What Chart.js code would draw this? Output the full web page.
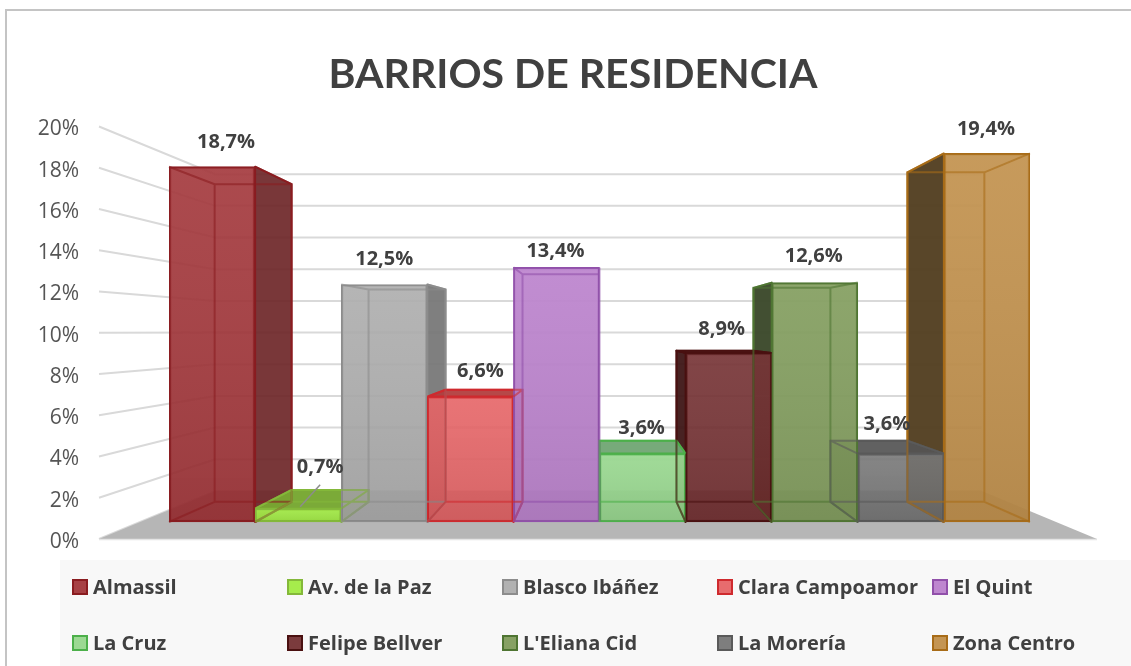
<!DOCTYPE html>
<html><head><meta charset="utf-8">
<style>html,body{margin:0;padding:0;background:#fff}#w{width:1131px;height:666px;position:relative}</style>
<script src="https://cdn.jsdelivr.net/npm/chart.js@4/dist/chart.umd.min.js"></script>
</head><body><div id="w"><canvas id="c"></canvas></div>
<script>
const chartTitle = 'BARRIOS DE RESIDENCIA';
const categories = ['Almassil','Av. de la Paz','Blasco Ibáñez','Clara Campoamor','El Quint','La Cruz','Felipe Bellver',"L'Eliana Cid",'La Morería','Zona Centro'];
const shares = [18.7,0.7,12.5,6.6,13.4,3.6,8.9,12.6,3.6,19.4];
const shareLabels = ['18,7%','0,7%','12,5%','6,6%','13,4%','3,6%','8,9%','12,6%','3,6%','19,4%'];
const faceColors = ['rgba(160,48,52,.92)','rgba(160,235,65,.94)','rgba(170,170,170,.92)','rgba(228,92,94,.9)','rgba(186,128,204,.94)','rgba(150,215,140,.94)','rgba(112,42,44,.92)','rgba(128,155,90,.94)','rgba(112,112,112,.9)','rgba(192,142,72,.94)'];
const edgeColors = ['#8a1c20','#84b83a','#8c8c8c','#cf2a2e','#9150aa','#4cb04a','#4a1010','#4f7532','#5a5a5a','#a86c18'];
const sideColors = ['rgba(110,38,40,.92)','rgba(120,170,50,.95)','rgba(120,120,120,.95)','rgba(178,62,62,.95)','rgba(140,90,160,.95)','rgba(112,165,115,.95)','rgba(62,22,22,.95)','rgba(58,72,42,.96)','rgba(85,85,85,.93)','rgba(84,64,34,.97)'];
const labelNudgeX = [14,22,0,10,-1,-1,-7,-1,-14,-1];
const labelNudgeY = [-24,-41,-25,-25,-16,-25,-24,-26,-29,-24];
const wallTicks = [0,2,4,6,8,10,12,14,16,18,20];
const txt = '#404040';
const F = '"Open Sans"';
const DEPTH_WALL = 0.768, DEPTH_BAR = 0.894, WALL_LIFT = 3;

function vanish(chart){return {x:(chart.chartArea.left+chart.chartArea.right)/2, y:chart.scales.y.getPixelForValue(10)};}
function proj(v,s,x,y){return {x:v.x+s*(x-v.x), y:v.y+s*(y-v.y)};}
function poly(ctx,pts){ctx.beginPath();pts.forEach((p,i)=>i?ctx.lineTo(p.x,p.y):ctx.moveTo(p.x,p.y));ctx.closePath();}

const scene = {
 id:'scene',
 afterLayout(chart){ chart.titleBlock.left=15; chart.titleBlock.right=1131; },
 beforeDraw(chart){
  const ctx=chart.ctx, W=chart.width;
  ctx.save();
  ctx.fillStyle='#f8f8f8';ctx.fillRect(60,560,W-60,106);
  ctx.strokeStyle='#c4c4c4';ctx.lineWidth=2;
  ctx.beginPath();ctx.moveTo(6,666);ctx.lineTo(6,10);ctx.lineTo(W,10);ctx.stroke();
  ctx.restore();
 },
 beforeDatasetsDraw(chart){
  const ctx=chart.ctx, yF=chart.scales.yWall, v=vanish(chart);
  const L=99,R=1097;
  ctx.save();
  const b0=yF.getPixelForValue(0)-WALL_LIFT;
  const fl=proj(v,DEPTH_WALL,L,b0), fr=proj(v,DEPTH_WALL,R,b0);
  ctx.strokeStyle='#d9d9d9';ctx.lineWidth=2;
  wallTicks.forEach(t=>{
    const y=yF.getPixelForValue(t)-WALL_LIFT, a=proj(v,DEPTH_WALL,L,y), b=proj(v,DEPTH_WALL,R,y);
    ctx.beginPath();ctx.moveTo(L,y);ctx.lineTo(a.x,a.y);ctx.lineTo(b.x,b.y);ctx.stroke();
  });
  ctx.fillStyle='#b6b6b6';poly(ctx,[{x:L,y:b0},{x:R,y:b0},fr,fl]);ctx.fill();
  ctx.strokeStyle='#e4e4e4';ctx.lineWidth=1.5;ctx.beginPath();ctx.moveTo(L,b0+.5);ctx.lineTo(R,b0+.5);ctx.stroke();
  const bars=chart.getDatasetMeta(0).data;
  const order=[0,1,2,3,4,9,8,7,6,5];
  order.forEach(i=>{
    const e=bars[i], hw=e.width/2, l=e.x-hw, r=e.x+hw, t=e.y, b=e.base;
    const q=(x,y)=>proj(v,DEPTH_BAR,x,y);
    ctx.fillStyle=sideColors[i];ctx.strokeStyle=edgeColors[i];ctx.lineWidth=2;ctx.lineJoin='round';
    const showSide = (r<v.x-1)||(l>v.x+1);
    if(showSide){const sx=r<v.x?r:l;
      poly(ctx,[{x:sx,y:t},q(sx,t),q(sx,b),{x:sx,y:b}]);ctx.fill();ctx.stroke();}
    if(t>v.y){
      poly(ctx,[{x:l,y:t},{x:r,y:t},q(r,t),q(l,t)]);ctx.fill();ctx.stroke();}
  });
  ctx.restore();
 },
 afterDatasetsDraw(chart){
  const ctx=chart.ctx, v=vanish(chart), bars=chart.getDatasetMeta(0).data;
  ctx.save();
  bars.forEach((e,i)=>{
    const hw=e.width/2,l=e.x-hw,r=e.x+hw,t=e.y,b=e.base;
    const q=(x,y)=>proj(v,DEPTH_BAR,x,y);
    const g=ctx.createLinearGradient(0,t,0,b);
    g.addColorStop(0,'rgba(255,255,255,.05)');g.addColorStop(1,'rgba(0,0,0,.08)');
    ctx.fillStyle=g;ctx.fillRect(l+1,t+1,r-l-2,b-t-2);
    const A=q(l,t),B=q(r,t),C=q(r,b),D=q(l,b);
    ctx.globalAlpha=.6;ctx.strokeStyle=edgeColors[i];ctx.lineWidth=2;
    ctx.beginPath();
    ctx.moveTo(A.x,A.y);ctx.lineTo(B.x,B.y);ctx.lineTo(C.x,C.y);ctx.lineTo(D.x,D.y);ctx.closePath();
    ctx.moveTo(l,t);ctx.lineTo(A.x,A.y);ctx.moveTo(r,t);ctx.lineTo(B.x,B.y);
    ctx.moveTo(l,b);ctx.lineTo(D.x,D.y);ctx.moveTo(r,b);ctx.lineTo(C.x,C.y);
    ctx.stroke();
    ctx.globalAlpha=1;
  });
  ctx.fillStyle=txt;ctx.textAlign='center';ctx.textBaseline='middle';ctx.font='bold 20px '+F;
  bars.forEach((e,i)=>ctx.fillText(shareLabels[i],e.x+labelNudgeX[i],e.y+labelNudgeY[i]));
  const e1=bars[1];
  ctx.strokeStyle='#8c8c8c';ctx.lineWidth=1.5;ctx.beginPath();ctx.moveTo(e1.x+22,e1.y-24);ctx.lineTo(e1.x+2,e1.y-2);ctx.stroke();
  const cols=[73,288,503,718,933], rows=[587,643];
  ctx.textAlign='left';ctx.font='bold 20px '+F;
  categories.forEach((c,i)=>{
    const x=cols[i%5], y=rows[Math.floor(i/5)];
    ctx.fillStyle=faceColors[i];ctx.strokeStyle=edgeColors[i];ctx.lineWidth=2;
    ctx.fillRect(x,y-7,14,14);ctx.strokeRect(x,y-7,14,14);
    ctx.fillStyle=txt;ctx.fillText(c,x+20,y+1);
  });
  ctx.restore();
 }
};

new Chart(document.getElementById('c'),{
 type:'bar',
 data:{labels:categories,datasets:[{label:'Barrios',data:shares,backgroundColor:faceColors,borderColor:edgeColors,borderWidth:2,borderSkipped:false,categoryPercentage:1,barPercentage:1,yAxisID:'y',xAxisID:'x'}]},
 options:{
  responsive:true,maintainAspectRatio:false,animation:false,
  layout:{padding:{left:0,right:101,top:0,bottom:124}},
  plugins:{
   legend:{display:false},tooltip:{enabled:false},
   title:{display:true,text:chartTitle,color:txt,font:{family:'Lato',size:41,weight:'bold',lineHeight:1.2},padding:{top:50.4,bottom:29.9}}
  },
  scales:{
   x:{display:false,type:'category'},
   y:{display:false,position:'left',min:-20/19,max:20+12.5/19,grid:{display:false}},
   yWall:{position:'left',min:0,max:20,
     afterFit(a){a.width=169;},
     afterBuildTicks(a){a.ticks=wallTicks.map(v=>({value:v}));},
     grid:{display:false,drawTicks:false},border:{display:false},
     ticks:{color:'#555555',padding:90,font:{family:F,size:21},callback:v=>v+'%',autoSkip:false}}
  }
 },
 plugins:[scene]
});
</script></body></html>
